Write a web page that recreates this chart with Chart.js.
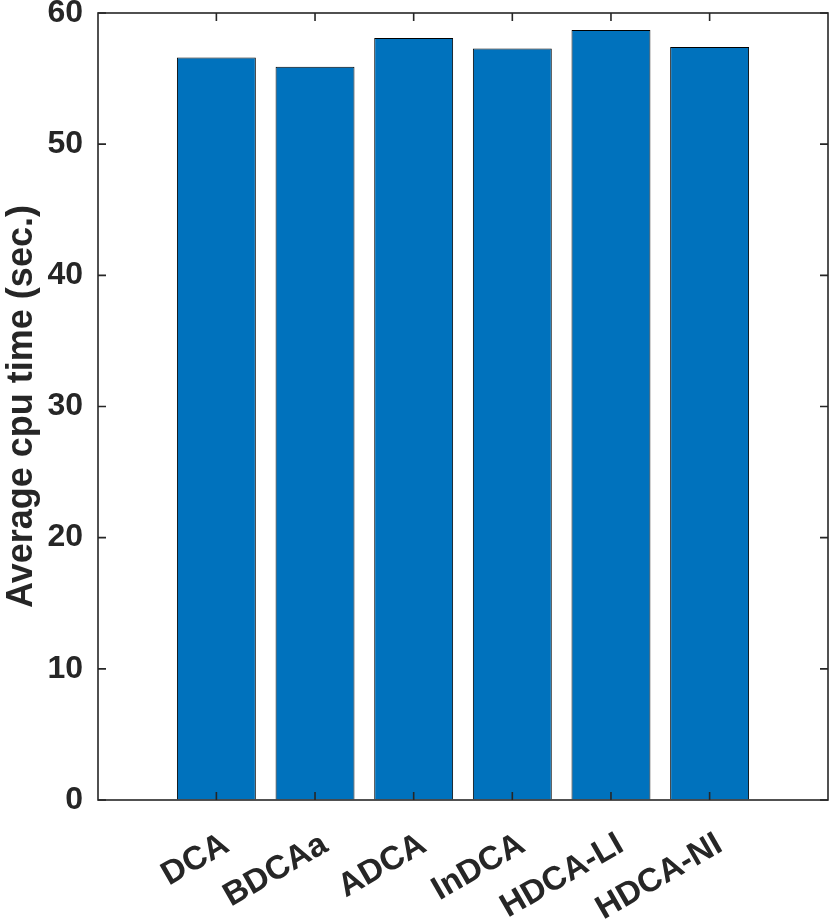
<!DOCTYPE html>
<html>
<head>
<meta charset="utf-8">
<script src="https://cdn.jsdelivr.net/npm/chart.js@4/dist/chart.umd.min.js"></script>
<style>
  html, body { margin: 0; padding: 0; background: #fff; }
  #wrap { width: 830px; height: 922px; }
</style>
</head>
<body>
<div id="wrap"><canvas id="cpuChart"></canvas></div>
<script>
// data
const methods = ['DCA', 'BDCAa', 'ADCA', 'InDCA', 'HDCA-LI', 'HDCA-NI'];
const cpuTimes = [56.6, 55.9, 58.1, 57.3, 58.7, 57.4];
const yTicks = [0, 10, 20, 30, 40, 50, 60];

const axisColor = '#262626';
const barBlue = '#0072BD';
const fontFamily = 'Liberation Sans, Arial, sans-serif';

// matlab style box with inward ticks
const boxPlugin = {
  id: 'box',
  afterDraw(chart) {
    const { ctx, chartArea: a, scales } = chart;
    ctx.save();
    ctx.strokeStyle = axisColor;
    ctx.lineWidth = 1.6;
    ctx.strokeRect(a.left, a.top, a.right - a.left, a.bottom - a.top);
    const len = 8;
    ctx.beginPath();
    yTicks.forEach(v => {
      const py = scales.y.getPixelForValue(v);
      ctx.moveTo(a.left, py); ctx.lineTo(a.left + len, py);
      ctx.moveTo(a.right, py); ctx.lineTo(a.right - len, py);
    });
    methods.forEach((m, i) => {
      const px = scales.x.getPixelForValue(i + 1);
      ctx.moveTo(px, a.bottom); ctx.lineTo(px, a.bottom - len);
      ctx.moveTo(px, a.top); ctx.lineTo(px, a.top + len);
    });
    ctx.stroke();
    ctx.restore();
  }
};

// invisible tick marks used only as the gap between labels and axis
const hiddenGrid = { display: true, drawOnChartArea: false, drawTicks: true, color: 'rgba(0,0,0,0)' };

const ctx = document.getElementById('cpuChart').getContext('2d');
new Chart(ctx, {
  type: 'bar',
  data: {
    datasets: [{
      data: methods.map((m, i) => ({ x: i + 1, y: cpuTimes[i] })),
      backgroundColor: barBlue,
      borderColor: '#000',
      borderWidth: 1,
      barPercentage: 0.8,
      categoryPercentage: 1.0
    }]
  },
  options: {
    responsive: true,
    maintainAspectRatio: false,
    animation: false,
    layout: { padding: { top: 0, right: 2, left: 0, bottom: 0 } },
    plugins: {
      legend: { display: false },
      tooltip: { enabled: false }
    },
    scales: {
      x: {
        type: 'linear',
        offset: false,
        min: -0.2,
        max: 7.2,
        afterBuildTicks: s => { s.ticks = methods.map((m, i) => ({ value: i + 1 })); },
        afterFit: s => { s.height = 122; },
        grid: { ...hiddenGrid, tickLength: 8 },
        border: { display: false },
        ticks: {
          autoSkip: false,
          minRotation: 30,
          maxRotation: 30,
          padding: 17,
          labelOffset: 10,
          color: axisColor,
          font: { family: fontFamily, size: 33, weight: 'bold' },
          callback: v => methods[v - 1]
        }
      },
      y: {
        min: 0,
        max: 60,
        afterBuildTicks: s => { s.ticks = yTicks.map(v => ({ value: v })); },
        afterFit: s => { s.width = 98; },
        grid: { ...hiddenGrid, tickLength: 15 },
        border: { display: false },
        ticks: {
          padding: 0,
          color: axisColor,
          font: { family: fontFamily, size: 32, weight: 'bold', lineHeight: 0.8125 }
        },
        title: {
          display: true,
          text: 'Average cpu time (sec.)',
          color: axisColor,
          padding: { top: 0, bottom: 0 },
          font: { family: fontFamily, size: 36, weight: 'bold' }
        }
      }
    }
  },
  plugins: [boxPlugin]
});
</script>
</body>
</html>
